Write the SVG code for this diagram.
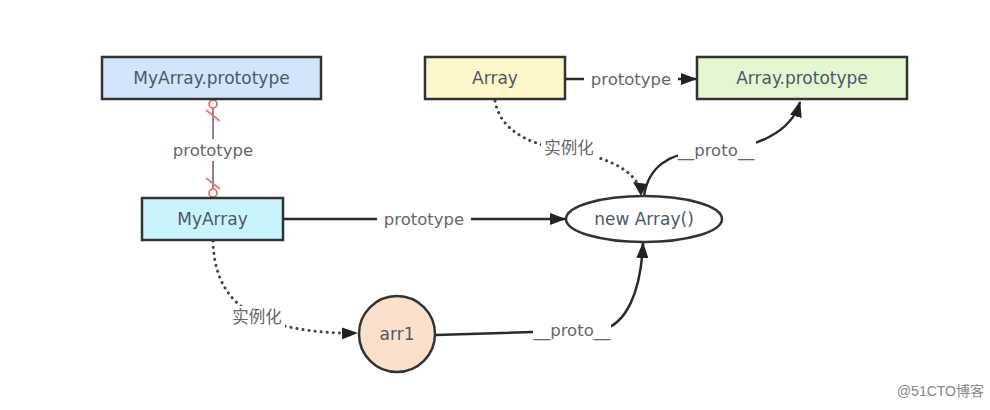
<svg xmlns="http://www.w3.org/2000/svg" width="990" height="410" viewBox="0 0 990 410">
<defs>
<style>
.node{stroke:#333;stroke-width:2.5}
.nt{font-family:"DejaVu Sans","Noto Sans CJK SC",sans-serif;font-size:17px;fill:#4d5866;text-anchor:middle;dominant-baseline:central}
.lt{font-family:"DejaVu Sans","Noto Sans CJK SC",sans-serif;font-size:16.5px;fill:#666;text-anchor:middle;dominant-baseline:central}
.solid{fill:none;stroke:#2a2a2a;stroke-width:2.5}
.dot{fill:none;stroke:#444;stroke-width:3;stroke-linecap:round;stroke-dasharray:0.1 6}
.bg{fill:#fff}
</style>
<marker id="arr" viewBox="0 0 16 12" refX="15" refY="6" markerWidth="16" markerHeight="12" markerUnits="userSpaceOnUse" orient="auto">
<path d="M0,0 L16,6 L0,12 Z" fill="#222"/>
</marker>
</defs>
<rect width="990" height="410" fill="#fff"/>
<g id="connectors">
<g id="e-myproto">
<line x1="213" y1="99" x2="213" y2="198" stroke="#9a8080" stroke-width="2"/>
<circle cx="213" cy="104" r="4" fill="#fff" stroke="#e07a7a" stroke-width="1.8"/>
<line x1="206" y1="110" x2="220" y2="121" stroke="#e07a7a" stroke-width="1.8"/>
<line x1="206" y1="178" x2="220" y2="189" stroke="#e07a7a" stroke-width="1.8"/>
<circle cx="213" cy="193" r="4" fill="#fff" stroke="#e07a7a" stroke-width="1.8"/>
<rect class="bg" x="164" y="139" width="98" height="22"/>
<text class="lt" x="213" y="150">prototype</text>
</g>
<g id="e-arrproto">
<line class="solid" x1="565" y1="79" x2="696" y2="79" marker-end="url(#arr)"/>
<rect class="bg" x="584" y="68" width="94" height="22"/>
<text class="lt" x="631" y="79">prototype</text>
</g>
<g id="e-myarr-new">
<line class="solid" x1="283" y1="219" x2="565" y2="219" marker-end="url(#arr)"/>
<rect class="bg" x="377" y="208" width="94" height="22"/>
<text class="lt" x="424" y="219">prototype</text>
</g>
<g id="e-arr-inst">
<path class="dot" d="M495,101 Q502,140 565,150 Q628,160 640,188"/>
<path d="M633,182 L647,184 L641,196 Z" fill="#222"/>
<rect class="bg" x="541" y="138" width="56" height="22"/>
<text class="lt" x="569" y="148">实例化</text>
</g>
<g id="e-new-proto">
<path class="solid" d="M644,196 C648,168 668,153 700,152 C760,150 792,130 800,102" marker-end="url(#arr)"/>
<rect class="bg" x="678" y="139" width="78" height="22"/>
<text class="lt" x="716" y="150">__proto__</text>
</g>
<g id="e-my-inst">
<path class="dot" d="M213,241 C214,288 238,314 280,325 Q318,334 357,333" marker-end="url(#arr)"/>
<rect class="bg" x="229" y="306" width="56" height="22"/>
<text class="lt" x="257" y="317">实例化</text>
</g>
<g id="e-arr1-proto">
<path class="solid" d="M436,335 L600,330 C626,326 641,292 643,243" marker-end="url(#arr)"/>
<rect class="bg" x="533" y="319" width="78" height="22"/>
<text class="lt" x="572" y="330">__proto__</text>
</g>
</g>
<g id="n-myarray-prototype">
<rect class="node" x="102" y="57" width="219" height="42" fill="#d3e5fa"/>
<text class="nt" x="211.5" y="78">MyArray.prototype</text>
</g>
<g id="n-array">
<rect class="node" x="425" y="57" width="140" height="42" fill="#fff7cc"/>
<text class="nt" x="495" y="78">Array</text>
</g>
<g id="n-array-prototype">
<rect class="node" x="697" y="57" width="210" height="42" fill="#e5f6d3"/>
<text class="nt" x="802" y="78">Array.prototype</text>
</g>
<g id="n-myarray">
<rect class="node" x="142" y="198" width="141" height="42" fill="#c9f4fb"/>
<text class="nt" x="212.5" y="219">MyArray</text>
</g>
<g id="n-new-array">
<ellipse class="node" cx="644" cy="219" rx="78" ry="23" fill="#fff"/>
<text class="nt" x="644" y="219">new Array()</text>
</g>
<g id="n-arr1">
<circle class="node" cx="397" cy="334" r="38" fill="#fbe1cb"/>
<text class="nt" x="397" y="334">arr1</text>
</g>
<text x="984" y="396" font-family="'Liberation Sans','Noto Sans CJK SC',sans-serif" font-size="14" fill="#888" text-anchor="end">@51CTO博客</text>
</svg>
